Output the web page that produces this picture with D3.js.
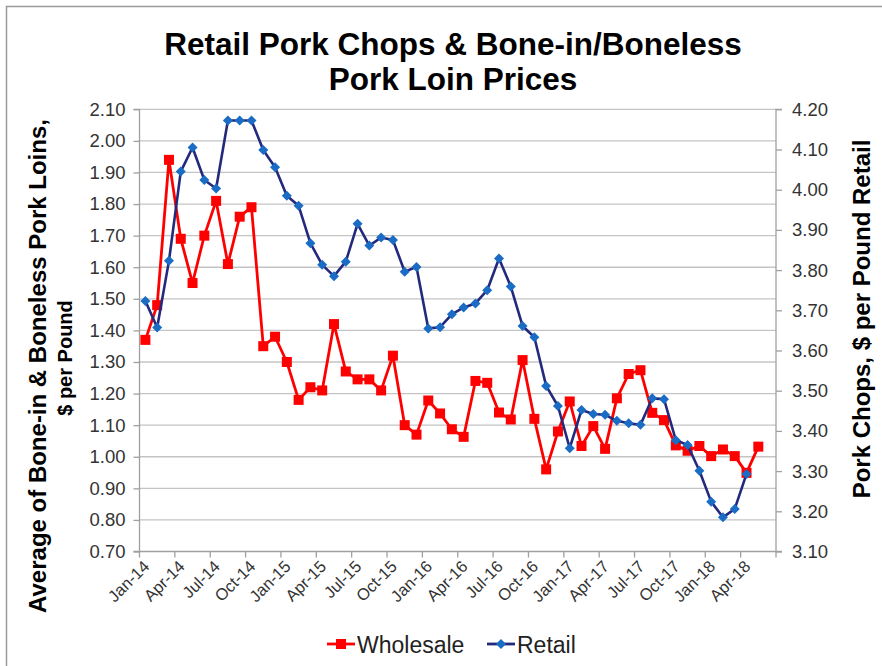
<!DOCTYPE html>
<html>
<head>
<meta charset="utf-8">
<script src="https://cdnjs.cloudflare.com/ajax/libs/d3/7.8.5/d3.min.js"></script>
<style>
  body { margin: 0; background: #fff; }
  svg text { font-family: "Liberation Sans", Arial, sans-serif; }
</style>
</head>
<body>
<svg id="chart" width="882" height="666"></svg>
<script>
// months on the category axis (Jan-14 .. Jun-18)
const monthNames = ["Jan","Feb","Mar","Apr","May","Jun","Jul","Aug","Sep","Oct","Nov","Dec"];
const months = [];
for (let y = 14; y <= 18; y++) {
  for (let m = 0; m < 12; m++) {
    if (y === 18 && m > 5) break;
    months.push(monthNames[m] + "-" + y);
  }
}

// wholesale, $/lb (left axis), Jan-14 .. May-18
const wholesale = [
  1.37, 1.48, 1.94, 1.69, 1.55, 1.70, 1.81, 1.61, 1.76, 1.79, 1.35, 1.38,
  1.30, 1.18, 1.22, 1.21, 1.42, 1.27, 1.245, 1.245, 1.21, 1.32, 1.10, 1.07,
  1.178, 1.137, 1.087, 1.063, 1.24, 1.234, 1.14, 1.118, 1.306, 1.12, 0.96, 1.08,
  1.175, 1.034, 1.097, 1.025, 1.185, 1.262, 1.274, 1.139, 1.116, 1.036, 1.019, 1.034,
  1.002, 1.023, 1.002, 0.949, 1.032
];

// retail pork chops, $/lb (right axis), Jan-14 .. Apr-18
const retail = [
  3.723, 3.657, 3.823, 4.045, 4.105, 4.024, 4.003, 4.172, 4.172, 4.172, 4.099, 4.056,
  3.985, 3.960, 3.867, 3.813, 3.785, 3.821, 3.915, 3.861, 3.881, 3.875, 3.796, 3.808,
  3.655, 3.658, 3.690, 3.707, 3.717, 3.750, 3.829, 3.759, 3.661, 3.633, 3.512, 3.462,
  3.357, 3.452, 3.442, 3.440, 3.425, 3.419, 3.415, 3.481, 3.479, 3.377, 3.365, 3.301,
  3.224, 3.185, 3.206, 3.293
];

const leftTicks = d3.range(0.7, 2.1001, 0.1);
const rightTicks = d3.range(3.1, 4.2001, 0.1);

const svg = d3.select("#chart");
const plotL = 139.5, plotR = 776, plotT = 109.3, plotB = 551.5;

// chart area border
svg.append("rect")
  .attr("x", 6.5).attr("y", 6.5)
  .attr("width", 900).attr("height", 700)
  .attr("fill", "none").attr("stroke", "#9a9a9a").attr("stroke-width", 1.5);

const x = d3.scaleBand().domain(months).range([plotL, plotR]).padding(0);
const yL = d3.scaleLinear().domain([0.7, 2.1]).range([plotB, plotT]);
const yR = d3.scaleLinear().domain([3.1, 4.2]).range([plotB, plotT]);
const cx = d => x(d) + x.bandwidth() / 2;

// gridlines
svg.append("g")
  .selectAll("line")
  .data(leftTicks.slice(1))
  .enter().append("line")
    .attr("x1", plotL).attr("x2", plotR)
    .attr("y1", d => yL(d)).attr("y2", d => yL(d))
    .attr("stroke", "#c4c4c4").attr("stroke-width", 1.3);

// left axis
const gL = svg.append("g").attr("transform", "translate(" + plotL + ",0)")
  .call(d3.axisLeft(yL).tickValues(leftTicks).tickFormat(d3.format(".2f")).tickSize(6).tickPadding(8));
// right axis
const gR = svg.append("g").attr("transform", "translate(" + plotR + ",0)")
  .call(d3.axisRight(yR).tickValues(rightTicks).tickFormat(d3.format(".2f")).tickSize(6).tickPadding(10));
// bottom axis: tick every 3 months at band start
const tickMonths = months.filter((d, i) => i % 3 === 0);
const gB = svg.append("g").attr("transform", "translate(0," + plotB + ")");
gB.append("line").attr("x1", plotL).attr("x2", plotR).attr("stroke", "#a0a0a0").attr("stroke-width", 1.3);
gB.selectAll("line.tk")
  .data(tickMonths.concat(["end"]))
  .enter().append("line")
    .attr("class", "tk")
    .attr("x1", d => d === "end" ? plotR : x(d))
    .attr("x2", d => d === "end" ? plotR : x(d))
    .attr("y1", 0).attr("y2", 6)
    .attr("stroke", "#a0a0a0").attr("stroke-width", 1.3);
gB.selectAll("text")
  .data(tickMonths)
  .enter().append("text")
    .attr("transform", d => "translate(" + (cx(d) + 5) + ",16) rotate(-45)")
    .attr("text-anchor", "end")
    .attr("font-size", 16.5)
    .attr("fill", "#333")
    .text(d => d);

[gL, gR].forEach(g => {
  g.select(".domain").attr("stroke", "#a0a0a0").attr("stroke-width", 1.3);
  g.selectAll(".tick line").attr("stroke", "#a0a0a0").attr("stroke-width", 1.3);
  g.selectAll(".tick text").attr("font-size", 18.5).attr("fill", "#333")
    .style("font-family", "'Liberation Sans', Arial, sans-serif");
});
gL.select(".domain").attr("d", "M-6," + plotT + "H0V" + plotB + "H-6");
gR.select(".domain").attr("d", "M6," + plotT + "H0V" + plotB + "H6");

// wholesale line
const lineW = d3.line().x((d, i) => cx(months[i])).y(d => yL(d));
svg.append("path").datum(wholesale)
  .attr("d", lineW).attr("fill", "none")
  .attr("stroke", "#ff0000").attr("stroke-width", 2.8).attr("stroke-linejoin", "round");
svg.append("g").selectAll("rect")
  .data(wholesale)
  .enter().append("rect")
    .attr("x", (d, i) => cx(months[i]) - 5)
    .attr("y", d => yL(d) - 5)
    .attr("width", 10).attr("height", 10)
    .attr("fill", "#ff0000");

// retail line
const lineR = d3.line().x((d, i) => cx(months[i])).y(d => yR(d));
svg.append("path").datum(retail)
  .attr("d", lineR).attr("fill", "none")
  .attr("stroke", "#232a7e").attr("stroke-width", 2.6).attr("stroke-linejoin", "round");
svg.append("g").selectAll("path")
  .data(retail)
  .enter().append("path")
    .attr("d", "M0,-5L5,0L0,5L-5,0Z")
    .attr("transform", (d, i) => "translate(" + cx(months[i]) + "," + yR(d) + ")")
    .attr("fill", "#1a6cc4");

// title
const title = svg.append("text")
  .attr("text-anchor", "middle")
  .attr("font-size", 31.5).attr("font-weight", "bold").attr("fill", "#000");
title.append("tspan").attr("x", 453).attr("y", 55).text("Retail Pork Chops & Bone-in/Boneless");
title.append("tspan").attr("x", 453).attr("y", 90).text("Pork Loin Prices");

// left axis title
svg.append("text")
  .attr("transform", "translate(46,366) rotate(-90)")
  .attr("text-anchor", "middle")
  .attr("font-size", 24).attr("font-weight", "bold").attr("fill", "#000")
  .text("Average of Bone-in & Boneless Pork Loins,");
svg.append("text")
  .attr("transform", "translate(72,358) rotate(-90)")
  .attr("text-anchor", "middle")
  .attr("font-size", 20).attr("font-weight", "bold").attr("fill", "#000")
  .text("$ per Pound");

// right axis title
svg.append("text")
  .attr("transform", "translate(870,319) rotate(-90)")
  .attr("text-anchor", "middle")
  .attr("font-size", 24).attr("font-weight", "bold").attr("fill", "#000")
  .text("Pork Chops, $ per Pound Retail");

// legend
const legend = [
  { name: "Wholesale", x: 327, color: "#ff0000", shape: "square" },
  { name: "Retail", x: 487, color: "#232a7e", shape: "diamond" }
];
const lg = svg.append("g").selectAll("g").data(legend).enter().append("g")
  .attr("transform", d => "translate(" + d.x + ",644)");
lg.append("line").attr("x1", 0).attr("x2", 28)
  .attr("stroke", d => d.color).attr("stroke-width", 2.8);
lg.append("path")
  .attr("d", d => d.shape === "square" ? "M9,-5H19V5H9Z" : "M14,-5L19,0L14,5L9,0Z")
  .attr("fill", d => d.shape === "square" ? "#ff0000" : "#1a6cc4");
lg.append("text").attr("x", 30).attr("y", 8.5)
  .attr("font-size", 23).attr("fill", "#222")
  .text(d => d.name);
</script>
</body>
</html>
